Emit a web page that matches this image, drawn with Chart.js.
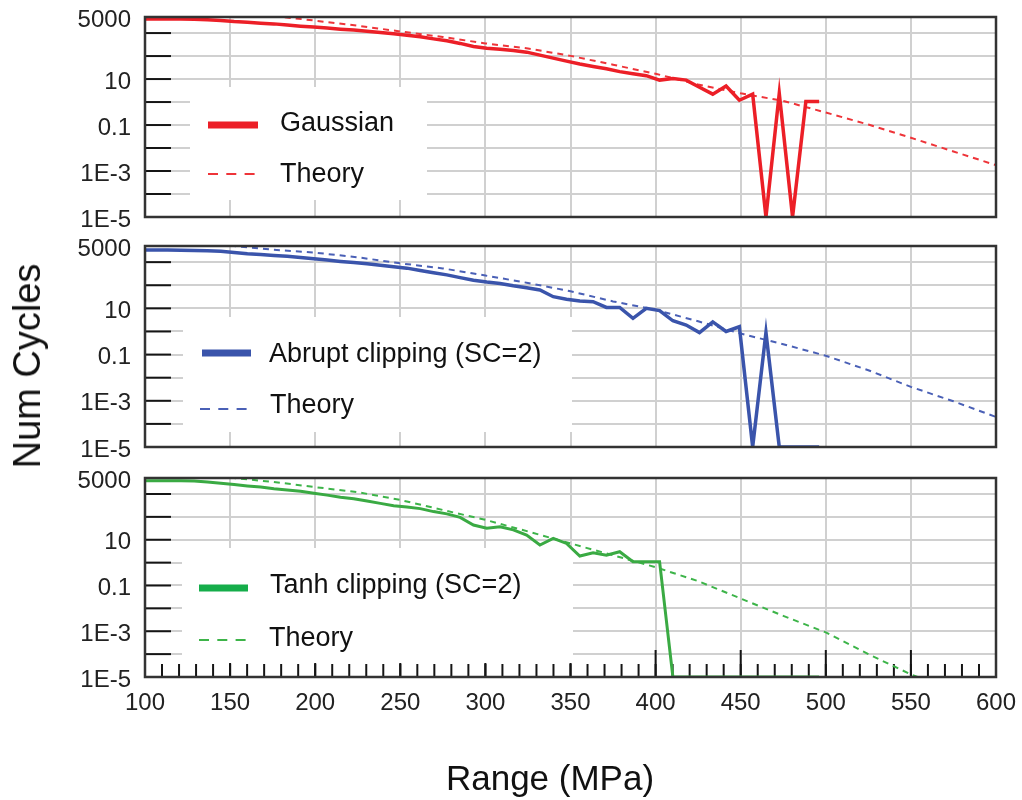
<!DOCTYPE html>
<html lang="en">
<head>
<meta charset="UTF-8">
<title>Num Cycles vs Range</title>
<script src="https://cdn.jsdelivr.net/npm/chart.js"></script>
<style>
  body { margin: 0; background: #fff; }
  #wrap { position: relative; width: 1022px; height: 800px; background: #fff; overflow: hidden;
          font-family: "Liberation Sans", Arial, sans-serif; color: #111; }
  /* canvases start 20px above the page so the top panel's label padding fits */
  #wrap canvas { position: absolute; left: 0; top: -20px; }
  .axis-title { position: absolute; white-space: nowrap; line-height: 1; }
  #yTitle { left: 27px; top: 366px; font-size: 38px; transform: translate(-50%, -50%) rotate(-90deg); }
  #xTitle { left: 550px; top: 760px; font-size: 35px; transform: translateX(-50%); }
</style>
</head>
<body>
<div id="wrap">
  <canvas id="gaussChart" width="1040" height="840"></canvas>
  <canvas id="abruptChart" width="1040" height="840"></canvas>
  <canvas id="tanhChart" width="1040" height="840"></canvas>
  <div class="axis-title" id="yTitle">Num Cycles</div>
  <div class="axis-title" id="xTitle">Range (MPa)</div>
</div>

<script>
// histogram bin centres (MPa)
const rangeBins = [
  97.66, 105.47, 113.28, 121.09, 128.91, 136.72, 144.53, 152.34, 160.16, 167.97,
  175.78, 183.59, 191.41, 199.22, 207.03, 214.84, 222.66, 230.47, 238.28, 246.09,
  253.91, 261.72, 269.53, 277.34, 285.16, 292.97, 300.78, 308.59, 316.41, 324.22,
  332.03, 339.84, 347.66, 355.47, 363.28, 371.09, 378.91, 386.72, 394.53, 402.34,
  410.16, 417.97, 425.78, 433.59, 441.41, 449.22, 457.03, 464.84, 472.66, 480.47,
  488.28, 496.09
];

// counted cycles per bin (empty bins sit on the 1E-5 floor)
const gaussianCounts = [
  4100, 4100, 4100, 4100, 3980, 3800, 3550, 3160, 2950, 2690,
  2510, 2240, 2000, 1820, 1660, 1480, 1350, 1200, 1070, 930,
  810, 690, 560, 460, 355, 263, 219, 200, 174, 148,
  110, 81, 60, 45, 35, 28, 21, 17, 14, 9,
  10.5, 9, 4.4, 2.2, 5, 1.2, 2.2, 1e-5, 2.4, 1e-5,
  1.05, 1.05
];
const abruptCounts = [
  3390, 3390, 3390, 3310, 3160, 3090, 2950, 2630, 2290, 2140,
  1950, 1780, 1585, 1410, 1230, 1070, 955, 851, 741, 631,
  550, 437, 347, 282, 214, 166, 138, 120, 95, 78,
  62, 32, 25, 21, 19.5, 11, 11, 3.7, 10, 8,
  2.9, 1.9, 0.9, 2.6, 1, 1.6, 1e-5, 0.9, 1e-5, 1e-5,
  1e-5, 1e-5
];
const tanhCounts = [
  3800, 3800, 3800, 3800, 3720, 3310, 2950, 2570, 2240, 2000,
  1700, 1510, 1320, 1070, 891, 724, 617, 490, 389, 309,
  269, 229, 170, 135, 95, 44, 32, 37, 27, 16,
  5.9, 11.5, 6.9, 1.95, 2.7, 2.1, 3.0, 1.1, 1.1, 1.1,
  1e-5, 1e-5, 1e-5, 1e-5, 1e-5, 1e-5, 1e-5, 1e-5, 1e-5, 1e-5,
  1e-5, 1e-5
];

// theoretical curves
const theoryRange = [150, 175, 200, 225, 250, 275, 300, 325, 350, 375, 400, 425, 450, 475, 500, 525, 550, 575, 600];
const gaussianTheory = [9000, 5600, 3470, 2090, 1175, 676, 355, 214, 102, 42, 17, 5.8, 2.4, 1.12, 0.35, 0.105, 0.028, 0.0071, 0.0018];
const abruptTheory = [5200, 3470, 2570, 1620, 890, 537, 263, 126, 55, 20, 8.7, 2.75, 0.81, 0.28, 0.089, 0.021, 0.004, 9.5e-4, 2.0e-4];
const tanhTheory = [5200, 3390, 2000, 1200, 550, 200, 74, 23, 6.9, 2.1, 0.63, 0.155, 0.027, 0.0047, 8.9e-4, 1e-4, 1.3e-5, 2.5e-6, 5e-7];

// axes
const xTickValues = [100, 150, 200, 250, 300, 350, 400, 450, 500, 550, 600];
const yTickValues = [1e-5, 1e-4, 1e-3, 0.01, 0.1, 1, 10, 100, 1000, 5000];
const yTickLabels = ['1E-5', '', '1E-3', '', '0.1', '', '10', '', '', '5000'];

const seriesLabels = ['Gaussian', 'Abrupt clipping (SC=2)', 'Tanh clipping (SC=2)'];
const theoryLabel = 'Theory';

const FONT = '"Liberation Sans", Arial, sans-serif';
const GRID = '#d0d0d0';
const SHIFT = 20;      // canvas offset above the page, see CSS
const PAGE_H = 800;
const CANVAS_W = 1040; // wider than the page so the last x label has room
const PLOT_RIGHT = 996;

function toPoints(xs, ys) {
  return xs.map((x, i) => ({ x: x, y: ys[i] }));
}

// white legend box, inward tick marks, frame and legend entries
const panelDecor = {
  id: 'panelDecor',
  beforeDatasetsDraw(chart, args, opts) {
    const ctx = chart.ctx, a = chart.chartArea;
    const xs = chart.scales.x, ys = chart.scales.y;
    const seg = (x0, y0, x1, y1) => { ctx.beginPath(); ctx.moveTo(x0, y0); ctx.lineTo(x1, y1); ctx.stroke(); };
    ctx.save();
    ctx.strokeStyle = '#151515';
    ctx.lineWidth = 2;
    if (opts.xTicks) {
      xTickValues.forEach(v => { const px = xs.getPixelForValue(v); seg(px, a.bottom, px, a.bottom - 27); });
    }
    const b = opts.box;
    ctx.fillStyle = '#fff';
    ctx.fillRect(b[0], b[1] + SHIFT, b[2] - b[0], b[3] - b[1]);
    if (opts.xTicks) {
      for (let v = 100; v <= 600; v += 10) {
        const px = xs.getPixelForValue(v);
        seg(px, a.bottom, px, a.bottom - 13);
      }
    }
    yTickValues.forEach(v => { const py = ys.getPixelForValue(v); seg(a.left, py, a.left + 26, py); });
    ctx.restore();
  },
  afterDatasetsDraw(chart, args, opts) {
    const ctx = chart.ctx, a = chart.chartArea;
    ctx.save();
    ctx.strokeStyle = '#333';
    ctx.lineWidth = 2.5;
    ctx.strokeRect(a.left, a.top, a.right - a.left, a.bottom - a.top);

    ctx.translate(0, SHIFT);
    ctx.font = '27px ' + FONT;
    ctx.textBaseline = 'alphabetic';
    ctx.textAlign = 'left';
    opts.items.forEach((it, i) => {
      const ds = chart.data.datasets[i];
      ctx.strokeStyle = it.color || ds.borderColor;
      ctx.lineWidth = it.dashed ? 2 : 7;
      ctx.lineCap = 'butt';
      ctx.setLineDash(it.dashed ? [10, 8.3] : []);
      ctx.beginPath();
      ctx.moveTo(it.x0, it.y);
      ctx.lineTo(it.x1, it.y);
      ctx.stroke();
      ctx.setLineDash([]);
      ctx.fillStyle = '#111';
      ctx.fillText(ds.label, it.tx, it.base);
    });
    ctx.restore();
  }
};

// one panel; plot area spans page rows [cfg.top, cfg.bottom]
function makePanel(id, cfg) {
  const xAxisH = cfg.xLabels ? 40 : 0;
  return new Chart(document.getElementById(id), {
    type: 'line',
    data: {
      datasets: [
        {
          label: cfg.label,
          data: toPoints(rangeBins, cfg.counts),
          borderColor: cfg.color,
          borderWidth: cfg.width,
          pointRadius: 0,
          tension: 0
        },
        {
          label: theoryLabel,
          data: toPoints(theoryRange, cfg.theory),
          borderColor: cfg.theoryColor,
          borderWidth: 2,
          borderDash: [6, 5],
          pointRadius: 0,
          tension: 0
        }
      ]
    },
    options: {
      responsive: false,
      animation: false,
      layout: {
        padding: {
          top: cfg.top + SHIFT,
          bottom: PAGE_H + SHIFT - cfg.bottom - xAxisH,
          left: 0,
          right: CANVAS_W - PLOT_RIGHT
        }
      },
      scales: {
        x: {
          type: 'linear',
          min: 100,
          max: 600,
          afterBuildTicks: s => { s.ticks = xTickValues.map(v => ({ value: v })); },
          afterFit: s => { s.height = xAxisH; },
          grid: { color: GRID, lineWidth: 2, drawTicks: false },
          border: { display: false },
          ticks: {
            display: cfg.xLabels,
            padding: 12,
            maxRotation: 0,
            autoSkip: false,
            color: '#222',
            font: { family: FONT, size: 24 }
          }
        },
        y: {
          type: 'logarithmic',
          min: 1e-5,
          max: 5000,
          afterBuildTicks: s => { s.ticks = yTickValues.map(v => ({ value: v })); },
          afterFit: s => { s.width = 145; },
          grid: { color: GRID, lineWidth: 2, drawTicks: false },
          border: { display: false },
          ticks: {
            callback: (v, i) => yTickLabels[i],
            autoSkip: false,
            padding: 14,
            labelOffset: 3,
            color: '#222',
            font: { family: FONT, size: 24 }
          }
        }
      },
      plugins: {
        legend: { display: false },
        tooltip: { enabled: false },
        panelDecor: { box: cfg.box, items: cfg.items, xTicks: cfg.xLabels }
      }
    },
    plugins: [panelDecor]
  });
}

makePanel('gaussChart', {
  label: seriesLabels[0], counts: gaussianCounts, theory: gaussianTheory,
  color: '#ec1f27', theoryColor: '#ee3439', width: 3.5,
  top: 17, bottom: 217, xLabels: false,
  box: [190, 87, 427, 200],
  items: [
    { x0: 208, x1: 258, y: 125, tx: 280, base: 131 },
    { x0: 208, x1: 258, y: 174, tx: 280, base: 182, dashed: true }
  ]
});

makePanel('abruptChart', {
  label: seriesLabels[1], counts: abruptCounts, theory: abruptTheory,
  color: '#3a54ab', theoryColor: '#4a60b6', width: 3.5,
  top: 246, bottom: 447, xLabels: false,
  box: [183, 317, 572, 432],
  items: [
    { x0: 202, x1: 251, y: 353, tx: 269, base: 362 },
    { x0: 200, x1: 249, y: 409, tx: 270, base: 413, dashed: true }
  ]
});

makePanel('tanhChart', {
  label: seriesLabels[2], counts: tanhCounts, theory: tanhTheory,
  color: '#3aaa43', theoryColor: '#3db449', width: 3,
  top: 478, bottom: 677, xLabels: true,
  box: [182, 548, 573, 663],
  items: [
    { x0: 199, x1: 248, y: 588, tx: 270, base: 593, color: '#15ad4a' },
    { x0: 199, x1: 248, y: 640, tx: 269, base: 646, dashed: true }
  ]
});
</script>
</body>
</html>
